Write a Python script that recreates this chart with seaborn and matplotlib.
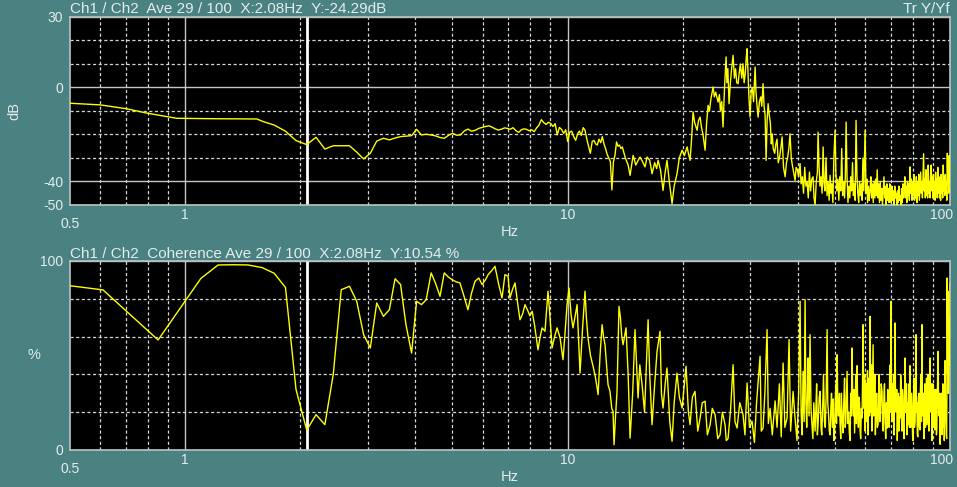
import matplotlib
matplotlib.use('Agg')
import matplotlib.pyplot as plt
import matplotlib.ticker as mticker
import matplotlib.transforms as mtrans
import seaborn as sns

# Transfer function Y/Yf, 0.5 - 40 Hz (Hz, dB)
tf_freq = [0.50, 0.60, 0.70, 0.80, 0.95, 1.20, 1.54, 1.60, 1.71, 1.83, 1.95, 2.08, 2.20, 2.32, 2.44,
           2.56, 2.69, 2.81, 2.93, 3.05, 3.17, 3.30, 3.42, 3.54, 3.66, 3.78, 3.91, 4.03, 4.15, 4.27,
           4.39, 4.52, 4.64, 4.76, 4.88, 5.00, 5.13, 5.25, 5.37, 5.49, 5.61, 5.74, 5.86, 5.98, 6.10,
           6.23, 6.35, 6.47, 6.59, 6.71, 6.84, 6.96, 7.08, 7.20, 7.32, 7.45, 7.57, 7.69, 7.81, 7.93,
           8.06, 8.18, 8.30, 8.42, 8.54, 8.67, 8.79, 8.91, 9.03, 9.16, 9.28, 9.40, 9.52, 9.64, 9.77,
           9.89, 10.01, 10.13, 10.25, 10.38, 10.50, 10.62, 10.74, 10.86, 10.99, 11.11, 11.23, 11.35,
           11.47, 11.60, 11.72, 11.84, 11.96, 12.08, 12.21, 12.33, 12.45, 12.57, 12.69, 12.82, 12.94,
           13.06, 13.18, 13.30, 13.43, 13.55, 13.67, 13.79, 13.91, 14.16, 14.40, 14.57, 14.84, 15.08,
           15.30, 15.47, 15.70, 15.94, 16.14, 16.40, 16.63, 16.90, 17.10, 17.25, 17.50, 17.77, 18.00,
           18.20, 18.45, 18.76, 19.00, 19.33, 19.60, 19.93, 20.20, 20.54, 20.70, 20.91, 21.10, 21.29,
           21.50, 21.81, 22.00, 22.21, 22.40, 22.60, 22.89, 23.10, 23.31, 23.50, 23.70, 24.02, 24.20,
           24.40, 24.75, 24.95, 25.10, 25.30, 25.50, 25.70, 25.97, 26.10, 26.25, 26.44, 26.65, 26.85,
           27.09, 27.30, 27.50, 27.70, 27.92, 28.10, 28.30, 28.55, 28.76, 28.95, 29.15, 29.30, 29.47,
           29.60, 29.80, 30.00, 30.20, 30.40, 30.65, 30.93, 31.10, 31.30, 31.49, 31.75, 32.00, 32.20,
           32.45, 32.65, 32.85, 33.05, 33.25, 33.45, 33.70, 33.90, 34.10, 34.27, 34.50, 34.80, 35.05,
           35.30, 35.55, 35.80, 36.10, 36.39, 36.70, 37.06, 37.35, 37.60, 37.90, 38.17, 38.45, 38.70,
           39.00, 39.35, 39.60, 39.90, 40.20]
tf_db = [-6.7, -7.4, -9.0, -11.0, -13.1, -13.3, -13.4, -14.5, -16.0, -18.6, -22.6, -24.3, -21.2, -26.2, -24.8,
         -24.8, -24.8, -27.5, -30.4, -28.0, -22.8, -21.6, -22.3, -21.5, -20.9, -20.7, -20.5, -17.8, -20.2, -19.9,
         -20.2, -20.6, -21.3, -21.6, -20.4, -19.5, -20.3, -20.2, -18.5, -17.7, -18.6, -18.2, -17.4, -17.0, -16.6,
         -16.3, -16.9, -17.6, -18.1, -17.8, -17.2, -17.4, -17.8, -17.1, -18.3, -19.1, -18.0, -17.6, -17.8, -18.4,
         -18.0, -18.8, -17.2, -16.0, -13.7, -15.0, -15.7, -14.8, -15.3, -16.6, -15.4, -20.2, -17.0, -17.8, -19.5,
         -18.0, -23.0, -19.0, -18.6, -21.0, -22.5, -19.8, -18.5, -20.4, -17.1, -18.2, -22.0, -25.0,
         -28.0, -23.0, -22.5, -24.0, -24.5, -22.0, -23.5, -20.9, -24.0, -26.0, -28.4, -30.1, -31.5,
         -43.6, -31.6, -29.0, -23.2, -25.0, -24.5, -26.0, -25.3, -30.0, -33.0, -37.4, -28.9, -33.0,
         -31.0, -29.6, -31.5, -33.8, -29.6, -31.0, -36.7, -32.0, -34.5, -31.0, -35.0, -43.8, -36.0,
         -31.0, -40.0, -49.4, -42.0, -36.7, -30.0, -26.7, -29.0, -25.3, -28.0, -31.0, -22.0, -10.4,
         -15.0, -18.2, -14.0, -12.6, -17.0, -20.0, -26.7, -15.0, -7.6, -10.0, -5.0, 0.2, -4.0,
         -2.0, -6.2, -3.0, -10.0, -6.0, -16.8, -2.0, 13.0, 2.0, 8.0, -6.9, 2.0, 8.0,
         13.7, 4.0, 8.0, 2.0, 1.6, 6.0, 10.0, 4.0, 10.1, 2.0, 6.0, 12.0, 16.5,
         8.0, -4.0, -12.6, -2.0, 0.0, -6.0, 8.7, -2.0, -8.0, -12.6, -6.0, -4.0, -8.0,
         1.6, -8.0, -12.0, -31.0, -14.0, -6.9, -12.0, -15.0, -24.0, -19.7, -26.0, -28.0, -24.0,
         -22.0, -32.0, -30.0, -26.0, -21.0, -34.0, -38.0, -32.0, -30.0, -26.0, -19.7, -30.0, -33.0,
         -36.0, -39.5, -34.0, -35.0, -38.0]

# Transfer function noise floor, 40 - 100 Hz (Hz, dB)
tf_high = [(40.55, -32.4), (40.8, -41), (41.1, -38), (41.4, -45), (41.7, -34), (42.0, -42), (42.3, -40),
           (42.6, -47), (42.9, -36), (43.2, -44), (43.5, -39), (43.85, -38), (44.1, -47), (44.38, -50),
           (44.7, -40), (45.0, -36), (45.19, -19), (45.45, -33), (45.7, -42), (46.0, -38), (46.3, -45),
           (46.58, -25.3), (46.85, -41), (47.1, -44), (47.4, -30), (47.7, -46), (48.0, -40), (48.3, -48),
           (48.58, -37.4), (48.85, -45), (49.1, -41), (49.4, -49), (49.7, -30), (50.06, -18.2), (50.3, -36),
           (50.6, -44), (50.9, -39), (51.2, -48), (51.5, -38), (51.8, -44), (52.1, -26), (52.4, -46),
           (52.7, -40), (53.0, -47), (53.25, -38), (53.5, -14.7), (53.8, -38), (54.1, -49), (54.4, -42),
           (54.7, -47), (55.0, -38), (55.3, -44), (55.6, -32), (55.9, -46), (56.2, -41), (56.5, -48),
           (56.8, -14), (57.1, -37), (57.4, -45), (57.7, -49), (58.0, -40), (58.3, -46), (58.6, -41),
           (58.9, -48), (59.2, -30), (59.5, -44), (59.98, -18.2), (60.3, -45), (60.6, -39), (60.9, -49),
           (61.2, -42), (61.5, -48), (61.8, -43.8), (62.1, -38), (62.4, -47), (62.7, -41), (63.0, -49),
           (63.3, -40), (63.6, -47), (63.9, -39), (64.2, -46), (64.5, -35), (64.8, -47), (65.1, -41),
           (65.4, -49), (65.7, -40), (66.0, -48), (66.3, -43), (66.6, -50), (66.9, -43.8), (67.2, -38),
           (67.5, -47), (67.8, -42), (68.1, -50), (68.4, -41), (68.7, -48), (69.0, -43), (69.3, -49),
           (69.6, -41), (69.9, -46), (70.2, -49), (70.5, -42), (70.8, -48), (71.1, -44), (71.4, -50),
           (71.7, -42), (72.0, -47), (72.3, -45), (72.6, -50), (72.9, -44), (73.2, -49), (73.5, -42),
           (73.8, -48), (74.1, -46), (74.4, -50), (74.7, -43), (75.0, -49), (75.3, -41), (75.6, -47),
           (75.9, -44), (76.2, -38), (76.5, -47), (76.8, -42), (77.1, -49), (77.4, -40), (77.7, -46),
           (78.0, -41), (78.3, -48), (78.65, -33.8), (78.95, -45), (79.25, -39), (79.55, -48), (79.85, -40),
           (80.15, -46), (80.45, -37), (80.75, -48), (81.05, -41), (81.35, -47), (81.65, -38), (81.95, -49),
           (82.25, -40), (82.55, -46), (82.85, -37), (83.15, -48), (83.5, -42), (83.8, -36), (84.1, -45),
           (84.4, -40), (84.7, -47), (85.0, -38), (85.3, -28.2), (85.6, -44), (85.9, -39), (86.2, -47),
           (86.5, -35), (86.8, -46), (87.1, -40), (87.4, -47), (87.7, -33), (88.0, -45), (88.3, -40),
           (88.7, -47), (89.0, -36), (89.3, -33), (89.6, -44), (89.9, -38), (90.2, -47), (90.5, -37),
           (90.8, -45), (91.1, -40), (91.4, -48), (91.7, -36), (92.0, -44), (92.3, -39), (92.6, -47),
           (92.9, -34), (93.2, -45), (93.5, -38), (93.85, -47), (94.2, -41), (94.5, -48), (94.8, -37),
           (95.1, -45), (95.4, -40), (95.7, -47), (96.0, -33), (96.3, -44), (96.6, -38), (96.9, -46),
           (97.2, -37), (97.5, -45), (97.8, -40), (98.1, -48), (98.4, -28), (98.7, -42), (99.0, -36),
           (99.3, -45), (99.5, -29), (99.8, -40), (100.0, -38)]

# Coherence, 0.5 - 40 Hz (Hz, %)
coh_freq = [0.50, 0.61, 0.85, 1.10, 1.22, 1.34, 1.46, 1.59, 1.71, 1.83, 1.95, 2.08, 2.20, 2.32, 2.44,
            2.56, 2.69, 2.81, 2.93, 3.05, 3.17, 3.30, 3.42, 3.54, 3.66, 3.78, 3.91, 4.03, 4.15, 4.27,
            4.40, 4.52, 4.64, 4.76, 4.88, 4.99, 5.11, 5.23, 5.35, 5.49, 5.61, 5.73, 5.86, 5.98, 6.10,
            6.20, 6.34, 6.46, 6.60, 6.74, 6.86, 6.99, 7.07, 7.18, 7.29, 7.40, 7.51, 7.63, 7.74, 7.86,
            7.97, 8.08, 8.20, 8.37, 8.48, 8.58, 8.73, 8.89, 9.00, 9.11, 9.25, 9.39, 9.56, 9.73, 9.85,
            9.97, 10.09, 10.21, 10.33, 10.45, 10.59, 10.78, 10.95, 11.11, 11.20, 11.31, 11.48, 11.66,
            11.84, 12.02, 12.16, 12.31, 12.42, 12.53, 12.65, 12.76, 12.91, 13.05, 13.15, 13.23, 13.35,
            13.47, 13.63, 13.75, 13.86, 13.97, 14.22, 14.40, 14.57, 14.80, 15.01, 15.29, 15.45, 15.66,
            15.90, 16.24, 16.40, 16.63, 16.90, 17.14, 17.45, 17.60, 17.77, 18.00, 18.20, 18.50, 18.76,
            19.00, 19.33, 19.60, 19.93, 20.20, 20.41, 20.70, 20.91, 21.20, 21.54, 21.90, 22.21, 22.50,
            22.89, 23.20, 23.59, 23.90, 24.31, 24.70, 25.05, 25.40, 25.81, 26.00, 26.28, 26.70, 27.09,
            27.40, 27.75, 28.20, 28.76, 29.10, 29.47, 29.90, 30.37, 30.80, 31.20, 31.87, 32.10, 32.45,
            32.80, 33.24, 33.50, 33.85, 34.30, 34.89, 35.30, 35.80, 36.20, 36.61, 37.00, 37.50, 37.95,
            38.30, 38.88, 39.30, 39.80]
coh_pct = [86.9, 84.7, 58.2, 90.8, 97.9, 98.0, 97.9, 96.5, 93.5, 86.0, 32.0, 10.54, 18.7, 13.4, 40.0,
           84.8, 86.6, 78.7, 61.0, 54.0, 77.8, 70.7, 74.2, 90.6, 87.5, 66.3, 51.3, 78.7, 76.9, 79.5,
           93.7, 88.0, 81.3, 93.7, 91.5, 90.1, 89.0, 88.4, 82.0, 74.2, 83.0, 89.3, 91.0, 87.5, 90.0,
           92.8, 95.0, 97.2, 88.0, 80.4, 92.8, 91.9, 80.4, 85.0, 88.4, 78.0, 68.9, 72.0, 76.9, 74.0,
           71.0, 73.4, 66.0, 53.0, 60.0, 64.6, 62.8, 84.0, 70.0, 54.0, 60.0, 64.6, 59.3, 47.8, 62.0,
           76.9, 85.7, 72.0, 64.6, 70.0, 76.9, 40.7, 65.0, 84.0, 70.0, 59.3, 50.0, 44.3,
           38.0, 29.3, 50.0, 66.3, 60.0, 55.7, 45.0, 34.6, 31.0, 22.0, 20.5, 2.8, 18.0,
           31.0, 76.0, 70.0, 60.0, 55.7, 64.6, 40.0, 6.3, 30.0, 63.7, 27.5, 45.0, 34.6,
           20.0, 68.9, 40.0, 13.4, 35.0, 52.2, 62.8, 30.0, 22.2, 35.0, 43.4, 15.0, 4.6,
           25.0, 40.7, 28.0, 22.2, 35.0, 44.3, 20.0, 13.4, 28.0, 31.0, 10.0, 16.9, 25.0,
           25.8, 8.0, 13.4, 22.0, 18.7, 6.0, 8.1, 20.0, 13.4, 5.0, 6.0, 22.0, 45.1,
           15.0, 11.6, 25.0, 18.7, 8.0, 35.4, 12.0, 15.2, 4.0, 25.0, 49.6, 10.0, 11.6,
           30.0, 63.7, 14.0, 22.0, 8.0, 26.0, 12.0, 35.0, 7.0, 46.0, 12.0, 17.0, 58.4,
           10.0, 31.0, 18.0, 5.0]

# Coherence, 40 - 100 Hz (Hz, %)
coh_high = [(40.2, 30), (40.55, 78.7), (40.8, 20), (41.05, 8), (41.29, 41.6), (41.55, 15), (41.79, 79.5),
            (42.0, 25), (42.2, 12), (42.4, 30), (42.55, 48.7), (42.8, 18), (43.06, 61), (43.3, 22),
            (43.5, 15), (43.8, 6), (44.05, 25), (44.38, 10), (44.6, 22), (44.8, 35), (45.0, 8),
            (45.2, 14), (45.5, 28), (45.75, 31), (46.0, 12), (46.2, 8), (46.45, 22), (46.7, 40),
            (46.95, 15), (47.2, 12), (47.45, 30), (47.72, 63.7), (47.9, 25), (48.1, 20), (48.35, 10),
            (48.6, 8), (48.8, 22), (49.0, 30), (49.25, 12), (49.47, 27), (49.7, 5), (49.9, 10),
            (50.1, 25), (50.3, 35), (50.5, 14), (50.68, 50.4), (50.9, 22), (51.1, 18), (51.35, 30),
            (51.6, 13.4), (51.8, 6), (52.0, 30), (52.25, 16), (52.5, 9), (52.75, 25), (53.0, 38),
            (53.2, 12), (53.4, 15), (53.6, 28), (53.81, 41.6), (54.05, 14), (54.3, 20), (54.55, 9),
            (54.8, 5), (55.0, 30), (55.2, 18), (55.46, 54), (55.7, 24), (55.9, 18), (56.1, 32),
            (56.3, 9), (56.5, 25), (56.7, 40), (56.9, 14), (57.15, 44.6), (57.4, 20), (57.6, 12),
            (57.8, 28), (58.0, 25), (58.2, 10), (58.4, 6), (58.65, 22), (58.89, 16.9), (59.05, 35),
            (59.25, 66.3), (59.45, 30), (59.6, 22), (59.8, 40), (60.0, 10), (60.15, 28), (60.3, 35),
            (60.5, 15), (60.7, 22.2), (60.85, 42), (61.0, 8), (61.2, 25), (61.4, 38), (61.6, 18),
            (61.8, 70.7), (62.0, 35), (62.2, 20), (62.35, 45), (62.5, 10), (62.7, 30), (62.93, 55.7),
            (63.15, 18), (63.4, 25), (63.6, 40), (63.8, 8), (64.05, 22), (64.3, 30), (64.55, 12),
            (64.86, 13.4), (65.1, 32), (65.3, 40), (65.55, 15), (65.8, 20), (66.1, 35), (66.43, 31),
            (66.65, 12), (66.9, 10), (67.15, 28), (67.4, 35), (67.65, 15), (67.9, 6), (68.2, 25),
            (68.46, 11.6), (68.7, 32), (68.9, 30), (69.1, 14), (69.3, 12), (69.5, 38), (69.7, 45),
            (69.9, 20), (70.15, 78.7), (70.3, 25), (70.5, 15), (70.75, 35), (71.0, 24.6), (71.2, 40),
            (71.4, 8), (71.6, 30), (71.85, 67.2), (72.05, 22), (72.3, 20), (72.55, 32), (72.8, 5),
            (73.05, 25), (73.3, 30), (73.45, 10), (73.6, 12), (73.85, 28), (74.05, 16.9), (74.3, 40),
            (74.5, 35), (74.7, 15), (74.9, 10), (75.1, 32), (75.3, 28), (75.55, 12), (75.8, 6),
            (76.05, 30), (76.3, 48.7), (76.5, 22), (76.7, 20), (76.95, 35), (77.2, 8), (77.45, 25),
            (77.7, 13.4), (77.9, 30), (78.1, 35), (78.35, 12), (78.6, 44.6), (78.8, 20), (79.0, 12),
            (79.3, 30), (79.6, 22), (79.8, 8), (80.0, 5), (80.25, 25), (80.5, 38), (80.75, 12),
            (81.0, 15), (81.25, 30), (81.5, 61), (81.7, 20), (81.9, 25), (82.15, 8), (82.4, 7),
            (82.65, 28), (82.9, 30), (83.2, 12), (83.5, 10.6), (83.7, 32), (83.9, 40), (84.2, 15),
            (84.5, 66.3), (84.7, 25), (84.9, 18), (85.2, 30), (85.5, 6), (85.75, 22), (86.0, 35),
            (86.25, 12), (86.5, 15), (86.8, 38), (87.1, 13.4), (87.35, 28), (87.6, 40), (87.85, 15),
            (88.1, 10), (88.4, 30), (88.7, 48.7), (88.95, 22), (89.2, 20), (89.45, 35), (89.7, 5),
            (89.95, 25), (90.2, 35), (90.45, 12), (90.7, 14), (91.05, 32), (91.4, 10.6), (91.65, 28),
            (91.9, 32), (92.15, 8), (92.4, 12), (92.75, 35), (93.1, 52.2), (93.35, 22), (93.6, 18),
            (93.9, 30), (94.2, 3), (94.5, 25), (94.8, 30), (95.05, 10), (95.3, 8.1), (95.55, 28),
            (95.8, 35), (96.05, 12), (96.3, 15), (96.45, 30), (96.6, 5), (96.85, 22), (97.1, 47.3),
            (97.3, 25), (97.5, 20), (97.75, 8), (98.0, 6), (98.15, 30), (98.3, 91), (98.55, 40),
            (98.8, 84), (99.05, 30), (99.3, 40), (99.5, 55), (99.7, 70), (99.85, 45), (100.0, 88)]

cursor_hz = 2.08
top_title = 'Ch1 / Ch2  Ave 29 / 100  X:2.08Hz  Y:-24.29dB'
bottom_title = 'Ch1 / Ch2  Coherence Ave 29 / 100  X:2.08Hz  Y:10.54 %'
mode_label = 'Tr Y/Yf'

x_major = [1, 10, 100]
x_minor = [0.6, 0.7, 0.8, 0.9, 2, 3, 4, 5, 6, 7, 8, 9, 20, 30, 40, 50, 60, 70, 80, 90]
db_major = [30, 0, -40, -50]
db_minor = [20, 10, -10, -20, -30]
pct_major = [0, 100]
pct_minor = [20, 40, 60, 80]

bg = '#4a8181'
txt = '#e4ecec'
trace = '#ffff00'

plt.rcParams['font.family'] = ['Liberation Sans', 'DejaVu Sans']
plt.rcParams['axes.unicode_minus'] = False

fig = plt.figure(figsize=(9.57, 4.87), dpi=100, facecolor=bg)
ax1 = fig.add_axes([0.0731, 0.5791, 0.9196, 0.3860])
ax2 = fig.add_axes([0.0731, 0.0760, 0.9196, 0.3881])


def style(ax, ymaj, ymin, ylim, ylabel, rot, ylab_x):
    ax.set_facecolor('black')
    ax.set_xscale('log')
    ax.set_xlim(0.5, 100)
    ax.set_ylim(*ylim)
    ax.xaxis.set_major_locator(mticker.FixedLocator(x_major))
    ax.xaxis.set_minor_locator(mticker.FixedLocator(x_minor))
    # 100 is written by hand below so it stays inside the figure
    ax.xaxis.set_major_formatter(mticker.FixedFormatter(['1', '10', '']))
    ax.xaxis.set_minor_formatter(mticker.NullFormatter())
    ax.yaxis.set_major_locator(mticker.FixedLocator(ymaj))
    ax.yaxis.set_minor_locator(mticker.FixedLocator(ymin))
    ax.yaxis.set_major_formatter(mticker.FixedFormatter([str(v) for v in ymaj]))
    ax.set_axisbelow(True)
    ax.grid(which='major', color='#c2c6c6', lw=1.0, ls='-')
    ax.grid(which='minor', color='#d4d8d8', lw=0.9, ls=(0, (2.5, 2)))
    ax.tick_params(which='both', length=0, colors=txt, labelsize=10)
    ax.tick_params(axis='x', pad=2)
    ax.tick_params(axis='y', pad=5)
    for s in ax.spines.values():
        s.set_color('#b8c2c2')
        s.set_linewidth(1.2)
    tr = mtrans.blended_transform_factory(ax.transData, ax.transAxes)
    # the 0.5 Hz label sits lower than the decade labels
    ax.annotate('0.5', xy=(0.5, 0), xycoords=tr, xytext=(0, -8.3), textcoords='offset points',
                ha='center', va='top', color=txt, fontsize=10)
    ax.annotate('100', xy=(100, 0), xycoords=tr, xytext=(2.2, -2), textcoords='offset points',
                ha='right', va='top', color=txt, fontsize=10)
    ax.set_xlabel('Hz', color=txt, fontsize=10.5, va='top')
    ax.xaxis.set_label_coords(0.5, -0.104)
    ax.set_ylabel(ylabel, color=txt, fontsize=10.5, rotation=rot, va='center', ha='center')
    ax.yaxis.set_label_coords(ylab_x, 0.5)
    ax.axvline(cursor_hz, color='white', lw=2.0, zorder=2)


style(ax1, db_major, db_minor, (-50, 30), 'dB', 90, -0.0636)
style(ax2, pct_major, pct_minor, (0, 100), '%', 0, -0.041)

tf_x = tf_freq + [p[0] for p in tf_high]
tf_y = tf_db + [p[1] for p in tf_high]
coh_x = coh_freq + [p[0] for p in coh_high]
coh_y = coh_pct + [p[1] for p in coh_high]

sns.lineplot(x=tf_x, y=tf_y, ax=ax1, color=trace, linewidth=1.0,
             estimator=None, sort=False, zorder=3)
sns.lineplot(x=coh_x, y=coh_y, ax=ax2, color=trace, linewidth=1.0,
             estimator=None, sort=False, zorder=3)
ax1.set_xlim(0.5, 100)
ax2.set_xlim(0.5, 100)
ax1.set_ylim(-50, 30)
ax2.set_ylim(0, 100)

ax1.annotate(top_title, xy=(0, 1), xycoords='axes fraction', xytext=(0, 2.8),
             textcoords='offset points', ha='left', va='baseline', color=txt, fontsize=11)
ax1.annotate(mode_label, xy=(1, 1), xycoords='axes fraction', xytext=(0, 2.8),
             textcoords='offset points', ha='right', va='baseline', color=txt, fontsize=11)
ax2.annotate(bottom_title, xy=(0, 1), xycoords='axes fraction', xytext=(0, 2.5),
             textcoords='offset points', ha='left', va='baseline', color=txt, fontsize=11)

fig.savefig('out.png', dpi=100, facecolor=bg)
